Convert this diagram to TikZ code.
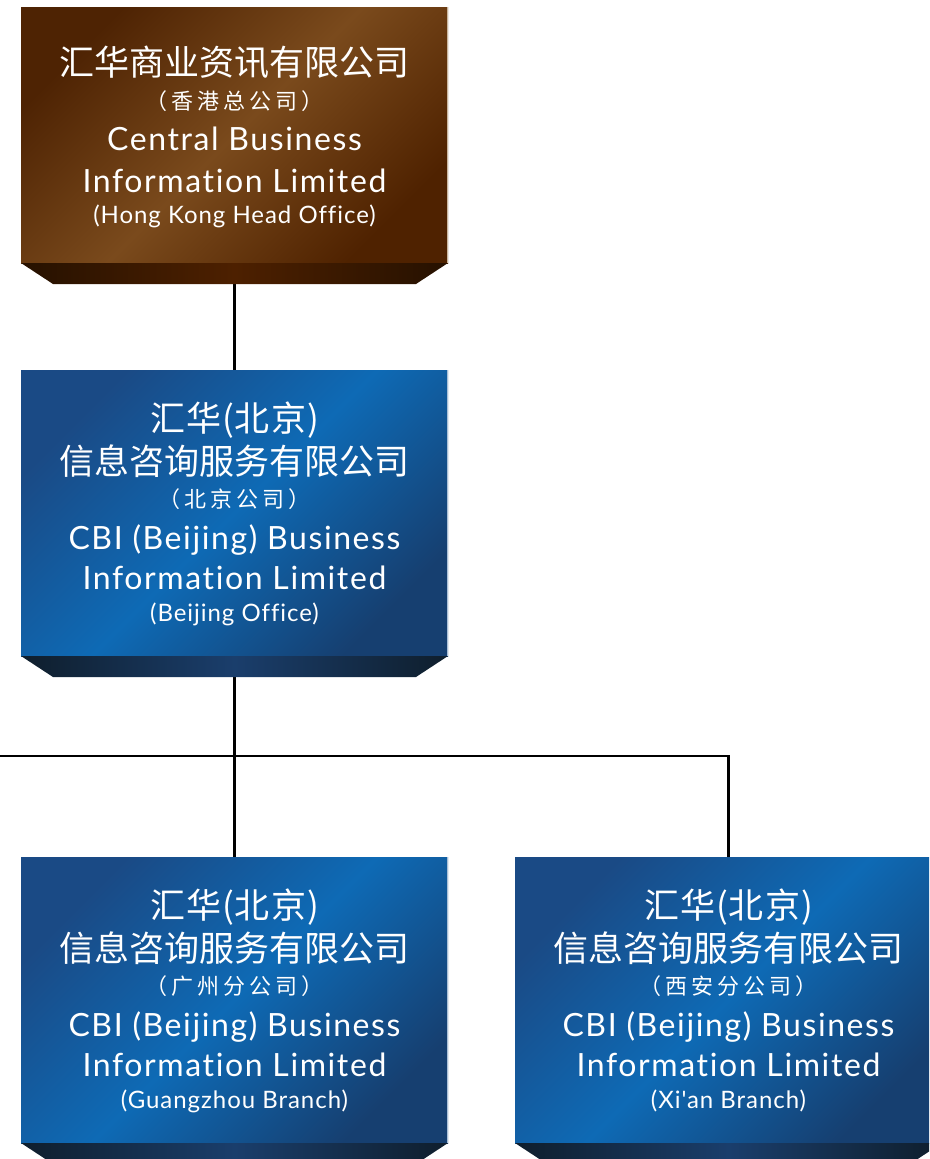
\documentclass[tikz,border=0pt]{standalone}
\usepackage{fontspec}
\setmainfont{Lato}[Ligatures=NoCommon]
\newfontfamily\latfont{Lato}[LetterSpace=4, Ligatures=NoCommon]
\newfontfamily\latwide{Lato}[LetterSpace=5, Ligatures=NoCommon]
\newfontfamily\cjk{Noto Sans CJK SC}
\newfontfamily\cjkmid{Noto Sans CJK SC}[LetterSpace=3]
\newfontfamily\cjkwide{Noto Sans CJK SC}[LetterSpace=18]
\pgfdeclarelayer{bg}
\pgfsetlayers{bg,main}

% box face colours
\definecolor{blueA}{HTML}{1A4A85}
\definecolor{blueB}{HTML}{0E6AB5}
\definecolor{blueC}{HTML}{163F70}
\definecolor{brownA}{HTML}{4E2303}
\definecolor{brownB}{HTML}{7A4A1C}
\definecolor{brownC}{HTML}{4F2200}
% bevel colours
\definecolor{bevBlueE}{HTML}{0F1E2C}
\definecolor{bevBlueM}{HTML}{1A3E6C}
\definecolor{bevBrownE}{HTML}{261100}
\definecolor{bevBrownM}{HTML}{4D2000}
% right-edge highlight
\definecolor{edgeBlue}{HTML}{A9BFD6}
\definecolor{edgeBrown}{HTML}{C9B59C}

\tikzset{
  box/.style={rectangle, inner sep=0pt, outer sep=0pt, minimum width=427pt,
    minimum height=286pt, anchor=north west},
  bluebox/.style={box, top color=blueA, bottom color=blueC, middle color=blueB,
    shading angle=45},
  brownbox/.style={box, minimum height=256pt, top color=brownA, bottom color=brownC,
    middle color=brownB, shading angle=45},
  bevblue/.style={left color=bevBlueE, right color=bevBlueE, middle color=bevBlueM},
  bevbrown/.style={left color=bevBrownE, right color=bevBrownE, middle color=bevBrownM},
  link/.style={draw=black, line width=2.4pt},
  txt/.style={text=white, inner sep=0pt, anchor=base},
  cjkbig/.style={txt, font=\cjk\fontsize{35}{40}\selectfont},
  cjkparen/.style={txt, font=\cjkmid\fontsize{35}{40}\selectfont},
  cjksmall/.style={txt, font=\cjkwide\fontsize{22}{26}\selectfont},
  latbig/.style={txt, font=\latwide\fontsize{32}{38}\selectfont},
  latsmall/.style={txt, font=\latfont\fontsize{24}{28}\selectfont},
}

\begin{document}
\begin{tikzpicture}[x=1pt, y=-1pt]
\useasboundingbox (0,0) rectangle (929,1159);
\clip (0,0) rectangle (929,1159);

% ---- boxes ----
\node[brownbox] (hk) at (21,7) {};
\node[bluebox]  (bj) at (21,370) {};
\node[bluebox]  (gz) at (21,857) {};
\node[bluebox]  (xa) at (515,857) {};

% ---- bevelled lower edges ----
\path[bevbrown] (hk.south west) -- (hk.south east) -- ([shift={(-32,21)}]hk.south east)
  -- ([shift={(32,21)}]hk.south west) -- cycle;
\foreach \b in {bj,gz,xa}
  \path[bevblue] (\b.south west) -- (\b.south east) -- ([shift={(-32,21)}]\b.south east)
    -- ([shift={(32,21)}]\b.south west) -- cycle;

% ---- right-edge highlights ----
\draw[edgeBrown, line width=1.2pt] ([xshift=-0.6pt]hk.north east) -- ([xshift=-0.6pt]hk.south east);
\foreach \b in {bj,gz}
  \draw[edgeBlue, line width=1.2pt] ([xshift=-0.6pt]\b.north east) -- ([xshift=-0.6pt]\b.south east);

% ---- connectors ----
\coordinate (busL) at (-5,756);
\begin{pgfonlayer}{bg}
  \draw[link] (hk.south) -- (bj.north);
  \draw[link] (bj.south) -- (gz.north);
  \draw[link] (busL) -- (busL -| xa.north) -- (xa.north);
\end{pgfonlayer}

% ---- head office text ----
\node[cjkbig]   (hk1) at ([yshift=-68pt]hk.north) {汇华商业资讯有限公司};
\node[cjksmall] (hk2) at ([yshift=-102pt]hk.north) {（香港总公司）};
\node[latbig]   (hk3) at ([yshift=-143pt]hk.north) {Central Business};
\node[latbig]   (hk4) at ([yshift=-185pt]hk.north) {Information Limited};
\node[latsmall] (hk5) at ([yshift=-216pt]hk.north) {(Hong Kong Head Office)};

% ---- Beijing text ----
\node[cjkparen] (bj1) at ([yshift=-61pt]bj.north) {汇华(北京)};
\node[cjkbig]   (bj2) at ([yshift=-104pt]bj.north) {信息咨询服务有限公司};
\node[cjksmall] (bj3) at ([yshift=-137pt]bj.north) {（北京公司）};
\node[latbig]   (bj4) at ([yshift=-179pt]bj.north) {CBI (Beijing) Business};
\node[latbig]   (bj5) at ([yshift=-219pt]bj.north) {Information Limited};
\node[latsmall] (bj6) at ([yshift=-251pt]bj.north) {(Beijing Office)};

% ---- Guangzhou text ----
\node[cjkparen] (gz1) at ([yshift=-61pt]gz.north) {汇华(北京)};
\node[cjkbig]   (gz2) at ([yshift=-104pt]gz.north) {信息咨询服务有限公司};
\node[cjksmall] (gz3) at ([yshift=-137pt]gz.north) {（广州分公司）};
\node[latbig]   (gz4) at ([yshift=-179pt]gz.north) {CBI (Beijing) Business};
\node[latbig]   (gz5) at ([yshift=-219pt]gz.north) {Information Limited};
\node[latsmall] (gz6) at ([yshift=-251pt]gz.north) {(Guangzhou Branch)};

% ---- Xi'an text ----
\node[cjkparen] (xa1) at ([yshift=-61pt]xa.north) {汇华(北京)};
\node[cjkbig]   (xa2) at ([yshift=-104pt]xa.north) {信息咨询服务有限公司};
\node[cjksmall] (xa3) at ([yshift=-137pt]xa.north) {（西安分公司）};
\node[latbig]   (xa4) at ([yshift=-179pt]xa.north) {CBI (Beijing) Business};
\node[latbig]   (xa5) at ([yshift=-219pt]xa.north) {Information Limited};
\node[latsmall] (xa6) at ([yshift=-251pt]xa.north) {(Xi'an Branch)};
\end{tikzpicture}
\end{document}
